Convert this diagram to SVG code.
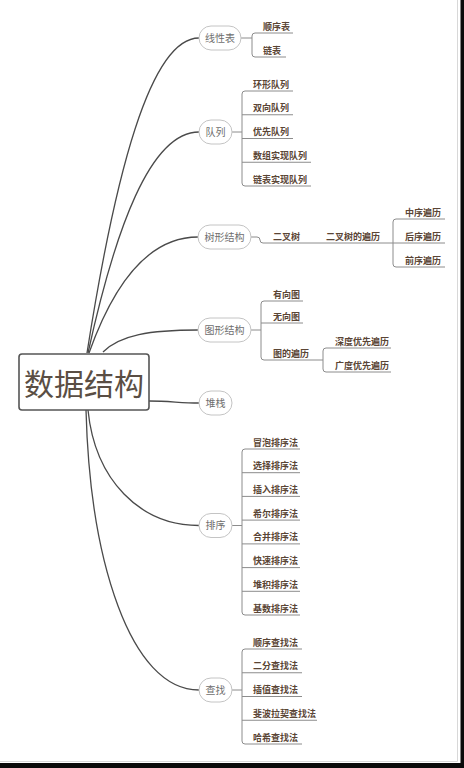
<svg xmlns="http://www.w3.org/2000/svg" width="464" height="768" viewBox="0 0 464 768">
<style>
.main{fill:none;stroke:#4a4a4a;stroke-width:1.3}
.sub{fill:none;stroke:#8c8c8c;stroke-width:1}
.pill{fill:#ffffff;stroke:#c4c4c4;stroke-width:1}
.pt{font-family:"Noto Sans CJK SC","Noto Sans",sans-serif;font-size:10px;fill:#6e6e6e;text-anchor:middle}
.ct{font-family:"Noto Sans CJK SC","Noto Sans",sans-serif;font-size:9px;font-weight:bold;fill:#5a4535}
.root{font-family:"Noto Sans CJK SC","Noto Sans",sans-serif;font-size:30px;fill:#5a4e44;text-anchor:middle}
</style>
<rect x="0" y="0" width="464" height="768" fill="#ffffff"/>
<g id="frame">
<line x1="457.5" y1="0" x2="457.5" y2="761.5" stroke="#d8d8d8" stroke-width="1"/>
<line x1="0" y1="761.5" x2="457.5" y2="761.5" stroke="#d8d8d8" stroke-width="1"/>
<rect x="460.5" y="0" width="3.5" height="768" fill="#0a0a0a"/>
<rect x="0" y="763" width="464" height="5" fill="#0a0a0a"/>
</g>
<g id="connectors">
<path class="main" d="M87,353 C115,175 150,38 199,38"/>
<path class="main" d="M88,353 C115,230 150,132 199,132"/>
<path class="main" d="M89,353 C115,280 150,237 198,237"/>
<path class="main" d="M103,352 C120,335 150,330 198,330"/>
<path class="main" d="M149,401 C170,401 180,403 199,403"/>
<path class="main" d="M88,410 C95,480 140,525.5 199,525.5"/>
<path class="main" d="M86,410 C90,560 130,690 199,690"/>
<!-- 线性表 -->
<path class="sub" d="M241,38 H252"/>
<path class="sub" d="M293,33 H255 Q252,33 252,36 V54 Q252,57 255,57 H286"/>
<!-- 队列 -->
<path class="sub" d="M232,132 H242"/>
<path class="sub" d="M293,91 H245 Q242,91 242,94 V183 Q242,186 245,186 H311"/>
<path class="sub" d="M242,114.75 H293 M242,138.5 H293 M242,162.25 H311"/>
<!-- 树形结构 -->
<path class="sub" d="M251,237 H257 Q260,237 260,240 Q260,243 263,243 H445"/>
<path class="sub" d="M445,219 H396 Q393,219 393,222 V264 Q393,267 396,267 H445"/>
<!-- 图形结构 -->
<path class="sub" d="M251,330 H261"/>
<path class="sub" d="M303,301 H264 Q261,301 261,304 V357 Q261,360 264,360 H323"/>
<path class="sub" d="M261,323 H303"/>
<path class="sub" d="M391,348 H326 Q323,348 323,351 V369 Q323,372 326,372 H391"/>
<!-- 排序 -->
<path class="sub" d="M232,525.5 H242"/>
<path class="sub" d="M300,449 H245 Q242,449 242,452 V612 Q242,615 245,615 H300"/>
<path class="sub" d="M242,472.7 H300 M242,496.4 H300 M242,520.1 H300 M242,543.9 H300 M242,567.6 H300 M242,591.3 H300"/>
<!-- 查找 -->
<path class="sub" d="M232,690 H242"/>
<path class="sub" d="M302,649 H245 Q242,649 242,652 V741 Q242,744 245,744 H302"/>
<path class="sub" d="M242,672.75 H302 M242,696.5 H302 M242,720.25 H317"/>
</g>
<g id="root">
<rect x="19" y="354" width="130" height="56" rx="3" fill="#ffffff" stroke="#555555" stroke-width="1.6"/>
<text class="root" x="84" y="395">数据结构</text>
</g>
<g id="n-xianxingbiao">
<rect class="pill" x="199" y="26" width="42" height="24" rx="12"/>
<text class="pt" x="220" y="41.8">线性表</text>
</g>
<g id="n-duilie">
<rect class="pill" x="199" y="120" width="33" height="24" rx="12"/>
<text class="pt" x="215.5" y="135.8">队列</text>
</g>
<g id="n-shuxing">
<rect class="pill" x="198" y="225" width="53" height="24" rx="12"/>
<text class="pt" x="224.5" y="240.8">树形结构</text>
</g>
<g id="n-tuxing">
<rect class="pill" x="198" y="318" width="53" height="24" rx="12"/>
<text class="pt" x="224.5" y="333.8">图形结构</text>
</g>
<g id="n-duizhan">
<rect class="pill" x="199" y="391" width="33" height="24" rx="12"/>
<text class="pt" x="215.5" y="406.8">堆栈</text>
</g>
<g id="n-paixu">
<rect class="pill" x="199" y="513.5" width="33" height="24" rx="12"/>
<text class="pt" x="215.5" y="529.3">排序</text>
</g>
<g id="n-chazhao">
<rect class="pill" x="199" y="678" width="33" height="24" rx="12"/>
<text class="pt" x="215.5" y="693.8">查找</text>
</g>
<g id="leaves-xianxingbiao">
<text class="ct" x="263" y="29.5">顺序表</text>
<text class="ct" x="263" y="53.5">链表</text>
</g>
<g id="leaves-duilie">
<text class="ct" x="253" y="87.5">环形队列</text>
<text class="ct" x="253" y="111.25">双向队列</text>
<text class="ct" x="253" y="135">优先队列</text>
<text class="ct" x="253" y="158.75">数组实现队列</text>
<text class="ct" x="253" y="182.5">链表实现队列</text>
</g>
<g id="leaves-shuxing">
<text class="ct" x="273" y="239.5">二叉树</text>
<text class="ct" x="326" y="239.5">二叉树的遍历</text>
<text class="ct" x="405" y="215.5">中序遍历</text>
<text class="ct" x="405" y="239.5">后序遍历</text>
<text class="ct" x="405" y="263.5">前序遍历</text>
</g>
<g id="leaves-tuxing">
<text class="ct" x="273" y="297.5">有向图</text>
<text class="ct" x="273" y="319.5">无向图</text>
<text class="ct" x="273" y="356.5">图的遍历</text>
<text class="ct" x="335" y="344.5">深度优先遍历</text>
<text class="ct" x="335" y="368.5">广度优先遍历</text>
</g>
<g id="leaves-paixu">
<text class="ct" x="253" y="445.5">冒泡排序法</text>
<text class="ct" x="253" y="469.2">选择排序法</text>
<text class="ct" x="253" y="492.9">插入排序法</text>
<text class="ct" x="253" y="516.6">希尔排序法</text>
<text class="ct" x="253" y="540.4">合并排序法</text>
<text class="ct" x="253" y="564.1">快速排序法</text>
<text class="ct" x="253" y="587.8">堆积排序法</text>
<text class="ct" x="253" y="611.5">基数排序法</text>
</g>
<g id="leaves-chazhao">
<text class="ct" x="253" y="645.5">顺序查找法</text>
<text class="ct" x="253" y="669.25">二分查找法</text>
<text class="ct" x="253" y="693">插值查找法</text>
<text class="ct" x="253" y="716.75">斐波拉契查找法</text>
<text class="ct" x="253" y="740.5">哈希查找法</text>
</g>
</svg>
